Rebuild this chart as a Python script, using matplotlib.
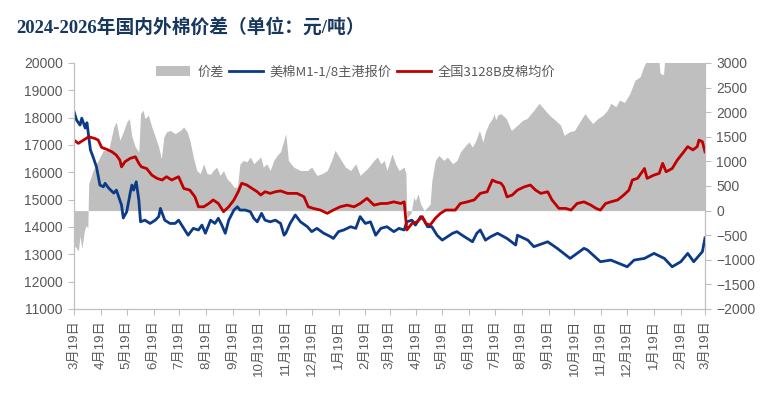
import numpy as np
import pandas as pd
import matplotlib
matplotlib.use('Agg')
import matplotlib.pyplot as plt
from matplotlib.patches import Patch
from matplotlib.lines import Line2D

start = pd.Timestamp('2024-03-19')

# 美棉M1-1/8主港报价 (left axis), days after 2024-03-19
us_days = [0, 3, 7, 9, 13, 15, 19, 22, 26, 30, 34, 36, 40, 46, 49, 51, 55, 57, 61, 65,
           67, 69, 72, 75, 77, 82, 88, 94, 98, 100, 105, 111, 117, 121, 127, 132, 138, 144, 148, 152,
           158, 163, 167, 171, 175, 179, 185, 189, 192, 198, 204, 208, 212, 217, 221, 227, 233, 239, 243, 245,
           250, 256, 262, 270, 275, 281, 289, 297, 300, 306, 312, 320, 326, 331, 337, 343, 349, 355, 362, 370,
           376, 382, 385, 391, 395, 401, 405, 409, 414, 420, 426, 432, 438, 443, 449, 455, 461, 466, 470, 476,
           482, 490, 501, 511, 513, 525, 532, 548, 559, 574, 590, 594, 609, 621, 640, 648, 660, 671, 683, 692,
           702, 710, 717, 727, 730]
us_price = [18220, 17910, 17730, 17980, 17620, 17815, 16820, 16570, 16200, 15535, 15470, 15600, 15425, 15240, 15350, 15170, 14800, 14330, 14560, 15240,
            15535, 15350, 15655, 14990, 14190, 14250, 14130, 14250, 14380, 14680, 14250, 14130, 14130, 14250, 13950, 13700, 13950, 13890, 14070, 13770,
            14250, 14130, 14320, 14070, 13770, 14250, 14620, 14740, 14620, 14620, 14560, 14320, 14190, 14500, 14250, 14190, 14250, 14130, 13700, 13770,
            14130, 14440, 14190, 14010, 13830, 13950, 13770, 13645, 13580, 13830, 13890, 14010, 13950, 14380, 14130, 14190, 13700, 13950, 14010, 13830,
            13950, 13890, 14190, 14250, 14070, 14380, 14250, 14010, 14010, 13700, 13520, 13645, 13770, 13830, 13700, 13580, 13460, 13770, 13890, 13520,
            13645, 13770, 13580, 13340, 13700, 13520, 13280, 13460, 13220, 12850, 13220, 13160, 12730, 12790, 12545, 12790, 12850, 13035, 12850, 12545,
            12730, 13035, 12730, 13100, 13600]

# 全国3128B皮棉均价 (left axis)
cn_days = [0, 5, 11, 17, 24, 28, 32, 38, 44, 49, 53, 55, 59, 65, 71, 75, 78, 84, 90, 96,
           102, 107, 113, 121, 127, 134, 140, 144, 150, 156, 161, 167, 173, 179, 185, 190, 194, 200, 206, 212,
           216, 221, 227, 233, 239, 247, 258, 266, 271, 277, 285, 293, 300, 308, 316, 324, 331, 339, 347, 355,
           362, 370, 378, 382, 385, 391, 397, 403, 407, 412, 418, 424, 430, 436, 441, 447, 455, 463, 470, 478,
           484, 488, 494, 497, 501, 507, 513, 521, 528, 534, 540, 548, 553, 561, 569, 575, 582, 590, 598, 604,
           609, 615, 621, 629, 636, 642, 646, 652, 660, 663, 671, 677, 681, 685, 692, 698, 704, 710, 716, 721,
           723, 727, 730]
cn_price = [17180, 17060, 17180, 17300, 17240, 17180, 16910, 16840, 16750, 16630, 16450, 16200, 16390, 16510, 16570, 16330, 16200, 16140, 15900, 15780,
            15720, 15840, 15720, 15840, 15410, 15350, 15100, 14740, 14740, 14860, 14990, 14860, 14560, 14740, 14990, 15290, 15600, 15535, 15410, 15290,
            15170, 15290, 15230, 15290, 15320, 15230, 15230, 15110, 14740, 14680, 14620, 14500, 14620, 14740, 14800, 14740, 14860, 15050, 14800, 14860,
            14860, 14920, 14860, 14920, 13890, 14130, 14190, 14380, 14130, 14070, 14320, 14500, 14620, 14620, 14620, 14860, 14920, 14990, 15230, 15290,
            15720, 15655, 15600, 15470, 15100, 15170, 15350, 15470, 15535, 15350, 15230, 15290, 14990, 14680, 14680, 14620, 14860, 14920, 14800, 14680,
            14620, 14860, 14920, 14990, 15170, 15350, 15720, 15780, 16140, 15780, 15900, 15960, 16330, 16020, 16140, 16450, 16690, 16940, 16820, 16940,
            17180, 17120, 16750]

# 价差 (right axis)
spread_days = [0, 1, 5, 7, 9, 12, 14, 16, 17, 22, 28, 34, 40, 46, 49, 53, 57, 61, 64, 67,
               71, 75, 77, 80, 82, 86, 90, 94, 98, 101, 104, 107, 111, 117, 123, 127, 131, 134, 138, 142,
               146, 150, 154, 158, 161, 165, 169, 173, 177, 181, 185, 189, 192, 196, 200, 204, 208, 212, 216, 219,
               223, 227, 231, 235, 239, 245, 248, 254, 262, 270, 275, 281, 287, 293, 298, 302, 308, 314, 320, 326,
               331, 337, 341, 347, 351, 355, 359, 362, 368, 372, 376, 382, 384, 385, 390, 393, 395, 398, 401, 405,
               409, 412, 414, 418, 422, 428, 432, 438, 443, 447, 453, 457, 461, 465, 469, 473, 476, 480, 484, 486,
               488, 490, 494, 500, 506, 513, 519, 524, 532, 538, 543, 550, 557, 563, 567, 573, 579, 585, 591, 594,
               600, 606, 612, 617, 621, 627, 631, 637, 643, 649, 655, 659, 664, 670, 676, 678, 682, 684, 690, 700,
               710, 720, 730]
spread = [-920, -715, -820, -510, -775, -410, -300, -350, 545, 815, 1020, 1225, 1225, 1700, 1800, 1430, 1600, 1800, 1870, 1500,
          1290, 1190, 1970, 2040, 1870, 1940, 1700, 1500, 1290, 1055, 1500, 1600, 1630, 1565, 1630, 1700, 1600, 1430, 1090, 815,
          750, 950, 750, 740, 815, 885, 715, 815, 645, 580, 475, 475, 950, 1020, 990, 1090, 950, 1020, 1090, 885,
          950, 815, 1020, 1120, 1200, 1565, 1020, 885, 815, 815, 885, 715, 750, 815, 1020, 1225, 1055, 885, 815, 950,
          715, 815, 885, 1020, 1090, 950, 1020, 815, 1155, 950, 815, 885, 750, -150, -50, 270, 200, 340, 135, 0,
          70, 135, 610, 1020, 1120, 1020, 1090, 950, 1020, 1190, 1325, 1395, 1290, 1430, 1630, 1395, 1600, 1770, 1870, 1970,
          1840, 1940, 1970, 1870, 1630, 1735, 1835, 1870, 2040, 2180, 2080, 1940, 1835, 1735, 1530, 1600, 1630, 1800, 1970, 1900,
          1770, 1870, 1940, 2040, 2180, 2110, 2245, 2200, 2380, 2650, 2720, 2925, 3100, 3300, 3200, 2790, 2760, 3200, 3500, 3800,
          4000, 4100, 3600]

tick_dates = [start + pd.DateOffset(months=i) for i in range(25)]
tick_labels = [f'{d.month}月19日' for d in tick_dates]

def to_dates(days):
    return start + pd.to_timedelta(days, unit='D')

grey_txt = '#595959'
spine_c = '#BFBFBF'
num_font = ['Liberation Sans', 'Noto Sans CJK SC']

fig = plt.figure(figsize=(7.77, 3.93), dpi=100)
ax = fig.add_axes([74 / 777, 1 - 309 / 393, 631 / 777, 246 / 393])
ax2 = ax.twinx()

ax2.fill_between(to_dates(spread_days), 0, spread, color='#BFBFBF', linewidth=0)
ax.plot(to_dates(us_days), us_price, color='#0B3A87', linewidth=2.0)
ax.plot(to_dates(cn_days), cn_price, color='#C00000', linewidth=2.0)

ax.set_zorder(ax2.get_zorder() + 1)
ax.patch.set_visible(False)

ax.set_ylim(11000, 20000)
ax.set_yticks(np.arange(11000, 20001, 1000))
ax2.set_ylim(-2000, 3000)
ax2.set_yticks(np.arange(-2000, 3001, 500))
ax.set_xlim(pd.Timestamp('2024-03-19'), pd.Timestamp('2026-03-19'))
ax.set_xticks(tick_dates)
ax.set_xticklabels(tick_labels, rotation=90, family=num_font, fontsize=9.5)

for a in (ax, ax2):
    for s in a.spines.values():
        s.set_color(spine_c)
    a.spines['top'].set_visible(False)
    a.tick_params(color=spine_c, labelcolor=grey_txt, length=4, width=0.8, pad=4)
    for lab in a.get_yticklabels():
        lab.set_family(num_font)
        lab.set_fontsize(10)

handles = [Patch(facecolor='#BFBFBF', edgecolor='none'),
           Line2D([], [], color='#0B3A87', linewidth=2.0),
           Line2D([], [], color='#C00000', linewidth=2.0)]
names = ['价差', '美棉M1-1/8主港报价', '全国3128B皮棉均价']
ax.legend(handles, names, loc='center', bbox_to_anchor=((356 - 74) / 631, (309 - 72) / 246),
          ncol=3, frameon=False, handlelength=2.6, handletextpad=0.5, columnspacing=0.4,
          prop={'family': ['Noto Sans CJK SC'], 'size': 9.5}, labelcolor=grey_txt)

fig.text(16 / 777, 1 - 27 / 393, '2024-2026年国内外棉价差（单位：元/吨）',
         family=['Liberation Serif', 'Noto Sans CJK SC'], fontweight='bold',
         fontsize=13.5, color='#17375E', va='center', ha='left')

fig.savefig('out.png', dpi=100)
